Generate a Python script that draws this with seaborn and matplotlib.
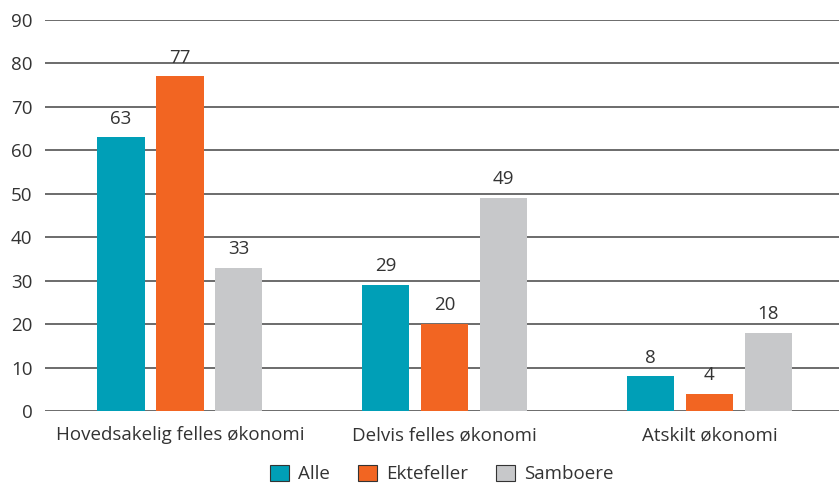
import matplotlib
matplotlib.use("Agg")
import matplotlib.pyplot as plt
import seaborn as sns
import pandas as pd

categories = ["Hovedsakelig felles økonomi", "Delvis felles økonomi", "Atskilt økonomi"]
groups = ["Alle", "Ektefeller", "Samboere"]
alle = [63, 29, 8]
ektefeller = [77, 20, 4]
samboere = [33, 49, 18]
yticks = list(range(0, 100, 10))

df = pd.DataFrame({
    "kategori": categories * 3,
    "gruppe": [g for g in groups for _ in categories],
    "verdi": alle + ektefeller + samboere,
})

sns.set_style("white")
plt.rcParams["font.family"] = ["Open Sans", "DejaVu Sans"]
colors = ["#009fb7", "#f26522", "#c7c8ca"]
fs = 13.5

fig = plt.figure(figsize=(8.39, 4.84), dpi=100)
ax = fig.add_axes([45 / 839, 1 - 411 / 484, 1 - 45 / 839, 391 / 484])
sns.barplot(data=df, x="kategori", y="verdi", hue="gruppe", palette=colors,
            width=0.668, gap=0.2, ax=ax, zorder=3, saturation=1,
            linewidth=0, edgecolor="none")

for c in ax.containers:
    ax.bar_label(c, padding=7, fontsize=fs, color="#333333")

ax.set_ylim(0, 90)
ax.set_xlim(-0.51, 2.49)
ax.set_yticks(yticks)
ax.yaxis.grid(True, color="#444444", linewidth=1.1)
ax.set_axisbelow(True)
for s in ax.spines.values():
    s.set_visible(False)
ax.tick_params(axis="both", length=0, labelsize=fs, labelcolor="#333333")
ax.tick_params(axis="y", pad=9)
ax.tick_params(axis="x", pad=11)
ax.set_xlabel("")
ax.set_ylabel("")

handles, labels = ax.get_legend_handles_labels()
for h in handles:
    h.set_edgecolor("#333333")
    h.set_linewidth(0.8)
ax.legend(handles, labels, loc="center", bbox_to_anchor=(0.5, -63 / 391),
          ncol=3, frameon=False, fontsize=fs, handlelength=1.0, handleheight=1.0,
          handletextpad=0.5, columnspacing=1.5, labelcolor="#333333",
          borderpad=0)

fig.savefig("out.png", dpi=100)
